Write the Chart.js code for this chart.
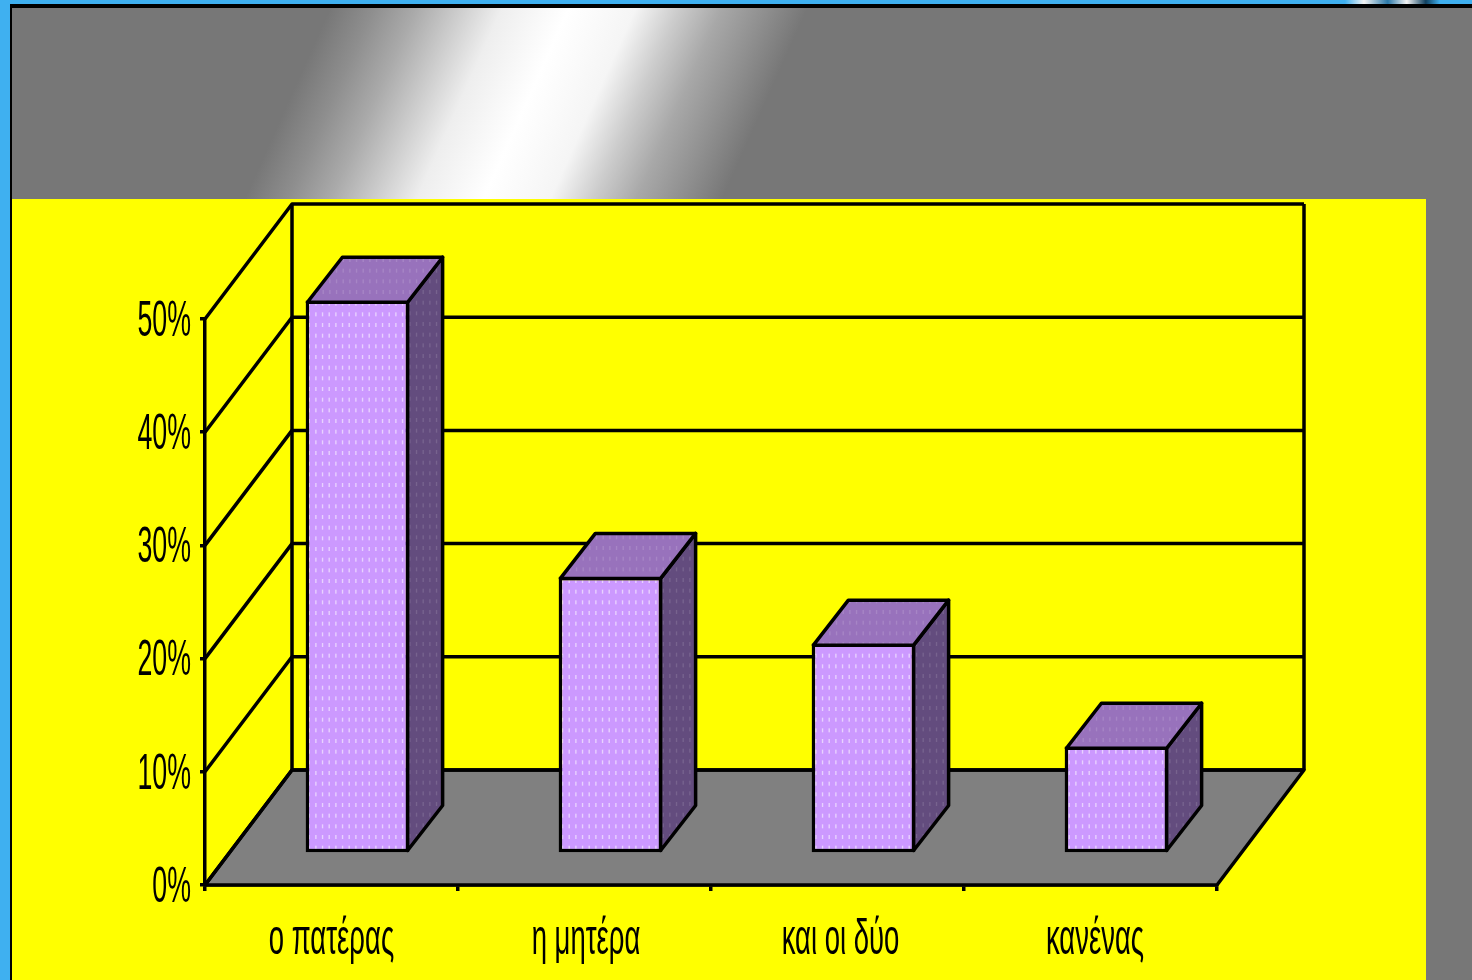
<!DOCTYPE html>
<html lang="el">
<head>
<meta charset="utf-8">
<title>Chart</title>
<script src="https://cdn.jsdelivr.net/npm/chart.js@4"></script>
<style>
    html, body { margin: 0; padding: 0; background: #777777; overflow: hidden; }
    canvas { display: block; }
</style>
</head>
<body>
<canvas id="chart" width="1472" height="980"></canvas>
<script>
const categories = ['ο πατέρας', 'η μητέρα', 'και οι δύο', 'κανένας'];
const seriesValues = [48.9, 24.5, 18.6, 9.5];
const yTicks = [0, 10, 20, 30, 40, 50];

// 3D look of the chart
const WALL_DX = 87, WALL_DY = -115;       // back wall offset
const BAR_DX = 26, BAR_DY = -31;          // bars stand inside the floor
const DEPTH_DX = 35, DEPTH_DY = -45;      // bar depth
const LINE = 3.5;

function dotPattern(base, dot) {
    const tile = document.createElement('canvas');
    tile.width = 20;
    tile.height = 32;
    const c = tile.getContext('2d');
    c.fillStyle = base;
    c.fillRect(0, 0, 20, 32);
    c.fillStyle = dot;
    for (let i = 0; i < 3; i++) {
        for (let j = 0; j < 3; j++) {
            c.fillRect(2.5 + i * 6.67, 2 + j * 10.67, 1.4, 4);
        }
    }
    return c.createPattern(tile, 'repeat');
}

const frontFill = dotPattern('#CC99FF', 'rgba(255,255,255,0.55)');
const sideFill = dotPattern('#634C7E', 'rgba(255,255,255,0.13)');
const topFill = dotPattern('#9872BC', 'rgba(255,255,255,0.14)');

function poly(ctx, pts, fill) {
    ctx.beginPath();
    pts.forEach((p, i) => i ? ctx.lineTo(p[0], p[1]) : ctx.moveTo(p[0], p[1]));
    ctx.closePath();
    if (fill) {
        ctx.fillStyle = fill;
        ctx.fill();
    }
    ctx.stroke();
}

function squeezedText(ctx, text, x, y, align, squeeze) {
    ctx.save();
    ctx.translate(x, y);
    ctx.scale(squeeze, 1);
    ctx.textAlign = align;
    ctx.textBaseline = 'middle';
    ctx.fillStyle = '#000';
    ctx.font = '50px "Liberation Sans"';
    ctx.fillText(text, 0, 0);
    ctx.restore();
}

// slide behind the chart
const slidePlugin = {
    id: 'slide',
    beforeDraw(chart) {
        const ctx = chart.ctx;
        ctx.save();
        ctx.fillStyle = '#3FB0F0';
        ctx.fillRect(0, 0, 1472, 980);
        ctx.fillStyle = '#000';
        ctx.fillRect(10, 4, 1462, 976);

        const g = ctx.createLinearGradient(327, 15, 725, 193);
        g.addColorStop(0, '#777777');
        g.addColorStop(0.09, '#8e8e8e');
        g.addColorStop(0.18, '#aaaaaa');
        g.addColorStop(0.27, '#cccccc');
        g.addColorStop(0.36, '#eeeeee');
        g.addColorStop(0.5, '#ffffff');
        g.addColorStop(0.64, '#f5f5f5');
        g.addColorStop(0.73, '#cccccc');
        g.addColorStop(0.82, '#a8a8a8');
        g.addColorStop(0.91, '#909090');
        g.addColorStop(1, '#777777');
        ctx.fillStyle = g;
        ctx.fillRect(12, 8, 1460, 972);

        ctx.fillStyle = '#FFFF00';
        ctx.fillRect(12, 199, 1414, 781);

        // bit of a logo at the top edge
        const logo = ctx.createLinearGradient(1345, 0, 1440, 0);
        logo.addColorStop(0, '#3FB0F0');
        logo.addColorStop(0.2, '#f4f4f4');
        logo.addColorStop(0.45, '#2a78a8');
        logo.addColorStop(0.65, '#f4f4f4');
        logo.addColorStop(0.85, '#10405f');
        logo.addColorStop(1, '#3FB0F0');
        ctx.fillStyle = logo;
        ctx.fillRect(1345, 0, 95, 4);
        ctx.restore();
    }
};

// floor, walls and grid lines go under the bars, front faces get shifted back
const wallsPlugin = {
    id: 'walls',
    beforeDatasetsDraw(chart) {
        const { ctx, chartArea: a, scales: { y } } = chart;
        ctx.save();
        ctx.strokeStyle = '#000';
        ctx.lineWidth = LINE;
        ctx.lineJoin = 'round';
        poly(ctx, [
            [a.left, a.bottom],
            [a.left + WALL_DX, a.bottom + WALL_DY],
            [a.right + WALL_DX, a.bottom + WALL_DY],
            [a.right, a.bottom]
        ], '#808080');
        yTicks.forEach(v => {
            const py = y.getPixelForValue(v);
            ctx.beginPath();
            ctx.moveTo(a.left, py);
            ctx.lineTo(a.left + WALL_DX, py + WALL_DY);
            ctx.lineTo(a.right + WALL_DX, py + WALL_DY);
            ctx.stroke();
        });
        ctx.beginPath();
        ctx.moveTo(a.left + WALL_DX, a.bottom + WALL_DY);
        ctx.lineTo(a.left + WALL_DX, a.top + WALL_DY);
        ctx.moveTo(a.right + WALL_DX, a.bottom + WALL_DY);
        ctx.lineTo(a.right + WALL_DX, a.top + WALL_DY);
        ctx.stroke();
        ctx.restore();

        ctx.save();
        ctx.translate(BAR_DX, BAR_DY);
    },
    afterDatasetsDraw(chart) {
        const ctx = chart.ctx;
        ctx.restore();
        ctx.save();
        ctx.strokeStyle = '#000';
        ctx.lineWidth = LINE;
        ctx.lineJoin = 'round';
        const inset = LINE / 2;
        chart.getDatasetMeta(0).data.forEach(bar => {
            const right = bar.x + bar.width / 2 + BAR_DX - inset;
            const left = bar.x - bar.width / 2 + BAR_DX + inset;
            const top = bar.y + BAR_DY + inset;
            const bottom = bar.base + BAR_DY - inset;
            poly(ctx, [
                [right, top],
                [right + DEPTH_DX, top + DEPTH_DY],
                [right + DEPTH_DX, bottom + DEPTH_DY],
                [right, bottom]
            ], sideFill);
            poly(ctx, [
                [left, top],
                [left + DEPTH_DX, top + DEPTH_DY],
                [right + DEPTH_DX, top + DEPTH_DY],
                [right, top]
            ], topFill);
        });
        ctx.restore();
    },
    afterDraw(chart) {
        const { ctx, scales: { x, y } } = chart;
        y.ticks.forEach((t, i) => {
            squeezedText(ctx, t.label, y.right - 14, y.getPixelForTick(i) + 3, 'right', 0.535);
        });
        x.ticks.forEach((t, i) => {
            squeezedText(ctx, t.label, x.getPixelForTick(i) + i * 1.5, 940, 'center', 0.55);
        });
    }
};

new Chart(document.getElementById('chart'), {
    type: 'bar',
    data: {
        labels: categories,
        datasets: [{
            data: seriesValues,
            backgroundColor: frontFill,
            borderColor: '#000',
            borderWidth: LINE,
            borderSkipped: false,
            barPercentage: 0.41,
            categoryPercentage: 1
        }]
    },
    options: {
        responsive: false,
        devicePixelRatio: 1,
        animation: false,
        layout: { padding: { left: 0, top: 319, right: 255, bottom: 0 } },
        plugins: { legend: { display: false }, tooltip: { enabled: false } },
        scales: {
            x: {
                afterFit: s => { s.height = 95; },
                grid: { drawOnChartArea: false, color: '#000', lineWidth: LINE, tickLength: 6 },
                border: { color: '#000', width: LINE },
                ticks: { display: false }
            },
            y: {
                min: 0,
                max: 50,
                afterFit: s => { s.width = 205; },
                afterBuildTicks: s => { s.ticks = yTicks.map(value => ({ value })); },
                grid: { drawOnChartArea: false, color: '#000', lineWidth: LINE, tickLength: 5 },
                border: { color: '#000', width: LINE },
                ticks: { display: false, callback: v => v + '%' }
            }
        }
    },
    plugins: [slidePlugin, wallsPlugin]
});
</script>
</body>
</html>
